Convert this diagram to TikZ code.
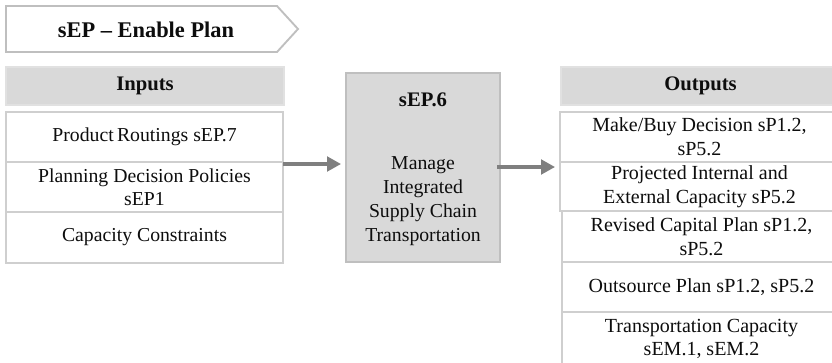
\documentclass[tikz,border=0pt]{standalone}
\usepackage{fontspec}
\setmainfont{Liberation Serif}
\usetikzlibrary{arrows.meta}
\definecolor{hdrfill}{HTML}{D9D9D9}
\definecolor{boxedge}{HTML}{CFCFCF}
\definecolor{titleedge}{HTML}{BFBFBF}
\definecolor{arrgray}{HTML}{7F7F7F}
\definecolor{txtcol}{HTML}{0D0D0D}
\begin{document}
\begin{tikzpicture}[x=0.75pt,y=-0.75pt,
  every node/.style={text=txtcol, font=\fontsize{14.8pt}{17.5pt}\selectfont, align=center, inner sep=0pt},
  hdrbox/.style={fill=hdrfill, draw=hdrfill!80!white, line width=0.8pt, minimum width=#1, minimum height=28.5pt, font=\fontsize{15.5pt}{17pt}\selectfont\bfseries},
  cellbox/.style={draw=boxedge, line width=0.9pt, fill=white, minimum width=207.75pt},
  outbox/.style={draw=boxedge, line width=0.9pt, fill=white, minimum width=209.25pt, font=\fontsize{15pt}{17.8pt}\selectfont},
  flow/.style={draw=arrgray, line width=2.3pt, -{Triangle[length=10.5pt,width=11pt]}}
]
\useasboundingbox (0,0) rectangle (832,362);

% title chevron
\draw[titleedge, line width=1.4pt, fill=white] (6,6) -- (277,6) -- (298,29) -- (277,52) -- (6,52) -- cycle;
\node (title) at (146,29.5) {\fontsize{16.8pt}{18pt}\selectfont\bfseries sEP -- Enable Plan};

% inputs
\node[hdrbox=208.5pt] (inhdr) at (145,86) {Inputs};
\node[cellbox, minimum height=37.5pt] (in1) at (144.5,137) {Product\hspace{2.5pt}Routings sEP.7};
\node[cellbox, minimum height=37.5pt] (in2) at (144.5,187) {Planning Decision Policies\\sEP1};
\node[cellbox, minimum height=38.25pt] (in3) at (144.5,237.5) {Capacity Constraints};

% center process
\node[fill=hdrfill, draw=titleedge, line width=0.9pt, minimum width=115.5pt, minimum height=141.75pt] (proc) at (423,167.5) {};
\node[font=\fontsize{15.5pt}{17pt}\selectfont\bfseries] (procid) at (423,100) {sEP.6};
\node[font=\fontsize{14.8pt}{18pt}\selectfont] (procname) at (423,201) {Manage\\Integrated\\Supply Chain\\Transportation};

% outputs
\node[hdrbox=209.25pt] (outhdr) at (700.5,86) {Outputs};
\node[outbox, minimum height=37.5pt] (o1) at (699.5,137) {Make/Buy Decision sP1.2,\\sP5.2};
\node[outbox, minimum height=36.75pt] (o2) at (699.5,186.5) {Projected Internal and\\External Capacity sP5.2};
\node[outbox, minimum height=38.25pt] (o3) at (701.5,236.5) {Revised Capital Plan sP1.2,\\sP5.2};
\node[outbox, minimum height=37.5pt] (o4) at (701.5,287) {Outsource Plan sP1.2, sP5.2};
\node[outbox, minimum height=40.5pt] (o5) at (701.5,339) {Transportation Capacity\\sEM.1, sEM.2};

% arrows
\coordinate (a1s) at (283,164);
\coordinate (a1e) at (341,164);
\coordinate (a2s) at (497,167);
\coordinate (a2e) at (555,167);
\draw[flow] (a1s) -- (a1e);
\draw[flow] (a2s) -- (a2e);
\end{tikzpicture}
\end{document}
